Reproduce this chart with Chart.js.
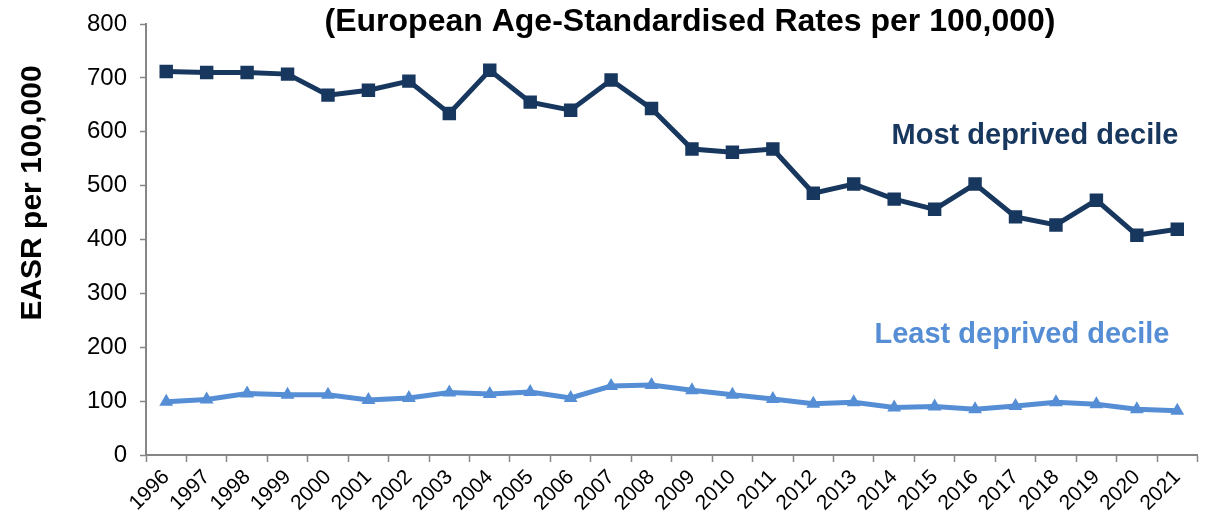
<!DOCTYPE html>
<html>
<head>
<meta charset="utf-8">
<script src="https://cdn.jsdelivr.net/npm/chart.js@4/dist/chart.umd.min.js"></script>
<style>
  html, body { margin: 0; padding: 0; background: #fff; }
  #wrap { width: 1207px; height: 516px; }
</style>
</head>
<body>
<div id="wrap"><canvas id="chart_1" width="1207" height="516"></canvas></div>
<script>
// data
const years = ['1996','1997','1998','1999','2000','2001','2002','2003','2004','2005','2006','2007','2008',
  '2009','2010','2011','2012','2013','2014','2015','2016','2017','2018','2019','2020','2021']
const most_deprived = [712, 710, 710, 707, 668, 677, 694, 634, 714, 655, 640, 696, 643,
  568, 562, 568, 486, 503, 475, 456, 503, 442, 427, 473, 408, 419]
const least_deprived = [99, 103, 114, 112, 112, 102, 106, 116, 113, 117, 106, 128, 130,
  120, 112, 104, 95, 98, 88, 90, 85, 91, 98, 94, 85, 82]
const y_ticks = [0, 100, 200, 300, 400, 500, 600, 700, 800]

const dark = '#17375E'
const light = '#558ED5'
const axis_grey = '#868686'
const font_family = '"Liberation Sans", Arial, sans-serif'

// title, axis title and series labels are drawn straight onto the canvas
const text_plugin = {
  id: 'texts',
  afterDraw(chart) {
    let ctx = chart.ctx
    ctx.save()
    ctx.textBaseline = 'middle'
    ctx.textAlign = 'center'
    ctx.fillStyle = '#000'
    ctx.font = 'bold 32px ' + font_family
    ctx.fillText('(European Age-Standardised Rates per 100,000)', 690, 22)

    ctx.fillStyle = dark
    ctx.font = 'bold 29px ' + font_family
    ctx.fillText('Most deprived decile', 1035, 136)
    ctx.fillStyle = light
    ctx.fillText('Least deprived decile', 1022, 335)

    ctx.translate(33, 193)
    ctx.rotate(-Math.PI / 2)
    ctx.fillStyle = '#000'
    ctx.font = 'bold 30px ' + font_family
    ctx.fillText('EASR per 100,000', 0, 0)
    ctx.restore()
  }
}

let chart = new Chart('chart_1', {
  type: 'line',
  data: {
    labels: years,
    datasets: [{
      label: 'Most deprived decile',
      data: most_deprived,
      borderColor: dark,
      backgroundColor: dark,
      borderWidth: 5,
      pointStyle: 'rect',
      pointRadius: 9.5,
      pointBorderWidth: 0,
      tension: 0
    }, {
      label: 'Least deprived decile',
      data: least_deprived,
      borderColor: light,
      backgroundColor: light,
      borderWidth: 5,
      pointStyle: 'triangle',
      pointRadius: 8,
      pointBorderWidth: 0,
      tension: 0
    }]
  },
  options: {
    responsive: false,
    animation: false,
    layout: { padding: { top: 24, left: 0, right: 0, bottom: 0 } },
    plugins: {
      legend: { display: false },
      title: { display: false },
      tooltip: { enabled: false }
    },
    scales: {
      x: {
        offset: true,
        afterFit(scale) {
          scale.height = 61
          scale.paddingLeft = 0
          scale.paddingRight = 0
        },
        grid: {
          offset: true,
          drawOnChartArea: false,
          tickLength: 7,
          tickColor: axis_grey,
          tickWidth: 1.5
        },
        border: { color: axis_grey, width: 2 },
        ticks: {
          color: '#000',
          font: { family: font_family, size: 21 },
          maxRotation: 45,
          minRotation: 45,
          autoSkip: false,
          padding: 3
        }
      },
      y: {
        min: 0,
        max: 800,
        afterFit(scale) {
          scale.width = 146
          scale.paddingTop = 0
          scale.paddingBottom = 0
        },
        afterBuildTicks(scale) { scale.ticks = y_ticks.map(v => ({ value: v })) },
        grid: {
          drawOnChartArea: false,
          tickLength: 6,
          tickColor: axis_grey,
          tickWidth: 1.5
        },
        border: { color: axis_grey, width: 2 },
        ticks: {
          color: '#000',
          font: { family: font_family, size: 24 },
          padding: 13
        }
      }
    }
  },
  plugins: [text_plugin]
})
</script>
</body>
</html>
